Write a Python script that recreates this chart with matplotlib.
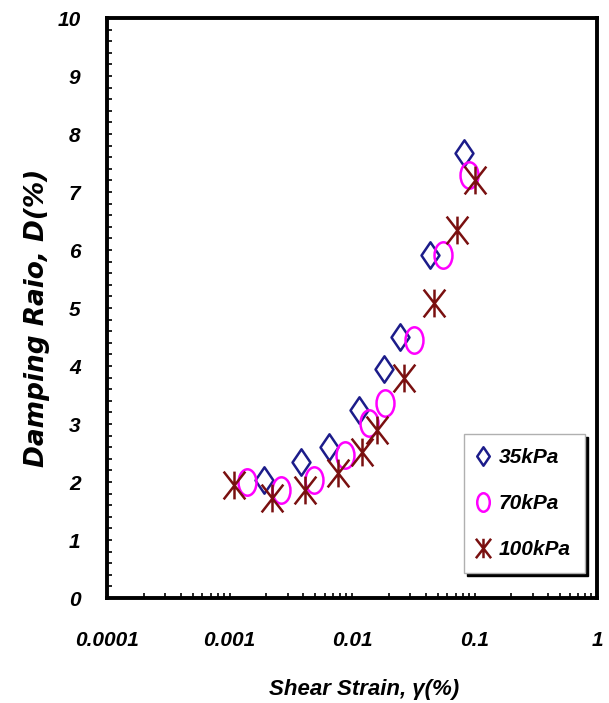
import matplotlib
matplotlib.use("Agg")
import matplotlib.pyplot as plt
import numpy as np
from matplotlib.path import Path
from matplotlib.ticker import FixedLocator, MultipleLocator, LogLocator, NullFormatter, FixedFormatter

# Damping ratio vs shear strain for three confining pressures
strain_35 = [0.00191, 0.00386, 0.00655, 0.0113, 0.0182, 0.0246, 0.0435, 0.0826]
damp_35 = [2.03, 2.34, 2.60, 3.24, 3.95, 4.50, 5.91, 7.67]

strain_70 = [0.00139, 0.00264, 0.00491, 0.0087, 0.01365, 0.0185, 0.0318, 0.055, 0.091]
damp_70 = [2.00, 1.86, 2.03, 2.47, 3.02, 3.36, 4.45, 5.91, 7.29]

strain_100 = [0.00108, 0.00222, 0.0041, 0.0077, 0.012, 0.0159, 0.0265, 0.047, 0.072, 0.100]
damp_100 = [1.95, 1.72, 1.86, 2.15, 2.52, 2.90, 3.79, 5.09, 6.34, 7.20]

series_labels = ["35kPa", "70kPa", "100kPa"]
x_ticks = [0.0001, 0.001, 0.01, 0.1, 1]
x_tick_labels = ["0.0001", "0.001", "0.01", "0.1", "1"]
y_ticks = list(range(0, 11))

# custom open markers (taller than wide)
diamond = Path([(0, 1), (0.68, 0), (0, -1), (-0.68, 0), (0, 1)],
               [Path.MOVETO, Path.LINETO, Path.LINETO, Path.LINETO, Path.CLOSEPOLY])
uc = Path.unit_circle()
ellipse = Path(uc.vertices * np.array([0.68, 1.0]), uc.codes)
star = Path([(-0.78, -1), (0.78, 1), (-0.78, 1), (0.78, -1), (0, -1), (0, 1)],
            [Path.MOVETO, Path.LINETO, Path.MOVETO, Path.LINETO, Path.MOVETO, Path.LINETO])

sans = ["Liberation Sans", "DejaVu Sans"]

fig = plt.figure(figsize=(6.09, 7.03), dpi=100)
ax = fig.add_axes([107 / 609, 105 / 703, 490 / 609, 580 / 703])

ax.plot(strain_35, damp_35, linestyle="none", marker=diamond, markersize=19,
        markerfacecolor="none", markeredgecolor="#1c1c8a", markeredgewidth=1.8,
        label=series_labels[0])
ax.plot(strain_70, damp_70, linestyle="none", marker=ellipse, markersize=19,
        markerfacecolor="none", markeredgecolor="#ff00ff", markeredgewidth=1.8,
        label=series_labels[1])
ax.plot(strain_100, damp_100, linestyle="none", marker=star, markersize=20,
        markerfacecolor="none", markeredgecolor="#7a1010", markeredgewidth=1.8,
        label=series_labels[2])

ax.set_xscale("log")
ax.set_xlim(1e-4, 1)
ax.set_ylim(0, 10)

ax.xaxis.set_major_locator(FixedLocator(x_ticks))
ax.xaxis.set_major_formatter(FixedFormatter(x_tick_labels))
ax.xaxis.set_minor_locator(LogLocator(base=10, subs=np.arange(2, 10)))
ax.xaxis.set_minor_formatter(NullFormatter())
ax.yaxis.set_major_locator(FixedLocator(y_ticks))
ax.yaxis.set_minor_locator(MultipleLocator(0.2))

for s in ax.spines.values():
    s.set_linewidth(2.8)
    s.set_color("black")

ax.tick_params(which="both", direction="in", length=3.5, width=1.2, color="black",
               top=False, right=False)
ax.tick_params(axis="y", which="major", pad=19)
ax.tick_params(axis="x", which="major", pad=24)

for lab in ax.get_xticklabels() + ax.get_yticklabels():
    lab.set_fontfamily(sans)
    lab.set_fontweight("bold")
    lab.set_fontstyle("italic")
    lab.set_fontsize(15)

ax.set_xlabel("Shear Strain, γ(%)", family=sans, weight="bold", style="italic", size=16)
ax.xaxis.set_label_coords(0.524, -0.14)
ax.set_ylabel("Damping Raio, D(%)", family="DejaVu Sans", weight="bold",
              style="oblique", size=19)
ax.yaxis.set_label_coords(-0.116, 0.483)

leg = ax.legend(loc="lower left", bbox_to_anchor=(464 / 609, (703 - 573) / 703),
                bbox_transform=fig.transFigure, borderaxespad=0,
                frameon=True, fancybox=False,
                edgecolor="#b0b0b0", framealpha=1, borderpad=0.67, labelspacing=1.3,
                handlelength=0.5, handletextpad=0.5, markerscale=0.7,
                prop=dict(family=sans, weight="bold", style="italic", size=15),
                shadow={"color": "black", "alpha": 1.0})
leg.get_frame().set_linewidth(1.0)

fig.savefig("out.png", dpi=100)
